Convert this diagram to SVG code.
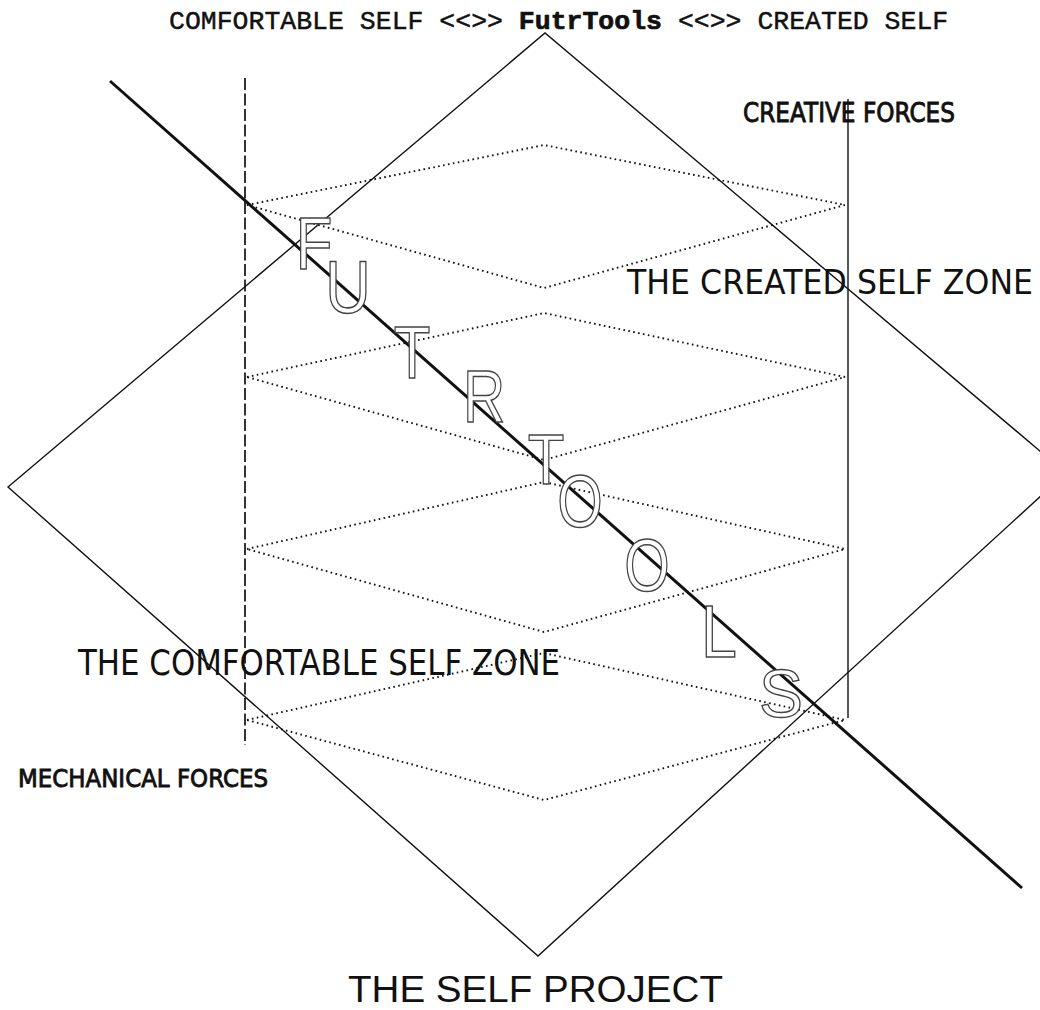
<svg xmlns="http://www.w3.org/2000/svg" width="1040" height="1010" viewBox="0 0 1040 1010">
<style>
.line{fill:none;stroke:#111;stroke-width:1.4;stroke-linejoin:miter}
.dot{fill:none;stroke:#111;stroke-width:1.9;stroke-dasharray:1.6 3.4;stroke-linecap:butt}
.dash{fill:none;stroke:#111;stroke-width:1.7;stroke-dasharray:12 3.5}
.lbl{font-family:"DejaVu Sans","Liberation Sans",sans-serif;fill:#111}
.med{stroke:#111;stroke-width:0.9}
.big{font-family:"Liberation Sans","DejaVu Sans",sans-serif;font-size:75px;fill:#fff;stroke:#444;stroke-width:1.5;text-anchor:middle}
.title{font-family:"Liberation Mono","Courier New",monospace;font-size:26.5px;fill:#111;stroke:#111;stroke-width:0.45}
</style>
<rect width="1040" height="1010" fill="#fff"/>
<g id="title">
<text class="title" x="169" y="29">COMFORTABLE SELF &lt;&lt;&gt;&gt; <tspan font-weight="bold" stroke-width="0.7">FutrTools</tspan> &lt;&lt;&gt;&gt; CREATED SELF</text>
</g>
<g id="connectors">
<polygon id="self-project-diamond" class="line" points="8,487 545,33 1066,473 538,956"/>
<g id="zones">
<polygon class="dot" points="247,205 544,145 845,205 544,288"/>
<polygon class="dot" points="247,377 544,313 845,377 544,460"/>
<polygon class="dot" points="247,549 544,482 845,549 544,632"/>
<polygon class="dot" points="247,720 544,653 845,720 544,800"/>
</g>
<line id="mechanical-axis" class="dash" x1="245" y1="78" x2="245" y2="745"/>
<line id="creative-axis" class="line" x1="848" y1="99" x2="848" y2="718" stroke-width="1.5"/>
<line id="futrtools-axis" x1="110" y1="81" x2="1022" y2="888" stroke="#111" stroke-width="3"/>
</g>
<g id="futrtools-letters">
<text class="big" transform="translate(314,269) scale(0.8,1)">F</text>
<text class="big" transform="translate(348,313) scale(0.84,1)">U</text>
<text class="big" transform="translate(412,378) scale(0.8,1)">T</text>
<text class="big" transform="translate(484,422) scale(0.78,1)">R</text>
<text class="big" transform="translate(546,484) scale(0.8,0.95)">T</text>
<text class="big" transform="translate(580,527) scale(0.78,1)">O</text>
<text class="big" transform="translate(647,591) scale(0.78,1)">O</text>
<text class="big" transform="translate(719,657) scale(0.86,1)">L</text>
<text class="big" transform="translate(781,717) scale(0.88,0.92)">S</text>
</g>
<g id="created-zone">
<text class="lbl" x="627" y="294" font-size="33.5" textLength="406" lengthAdjust="spacingAndGlyphs">THE CREATED SELF ZONE</text>
</g>
<g id="comfortable-zone">
<text class="lbl" x="78" y="675" font-size="35" textLength="482" lengthAdjust="spacingAndGlyphs">THE COMFORTABLE SELF ZONE</text>
</g>
<g id="creative-forces">
<text class="lbl med" x="743" y="122" font-size="26" textLength="212" lengthAdjust="spacingAndGlyphs">CREATIVE FORCES</text>
</g>
<g id="mechanical-forces">
<text class="lbl med" x="18" y="787" font-size="25" textLength="250" lengthAdjust="spacingAndGlyphs">MECHANICAL FORCES</text>
</g>
<g id="self-project">
<text x="348" y="1002" font-family="Liberation Sans, DejaVu Sans, sans-serif" font-size="37" fill="#111" textLength="375" lengthAdjust="spacingAndGlyphs">THE SELF PROJECT</text>
</g>
</svg>
